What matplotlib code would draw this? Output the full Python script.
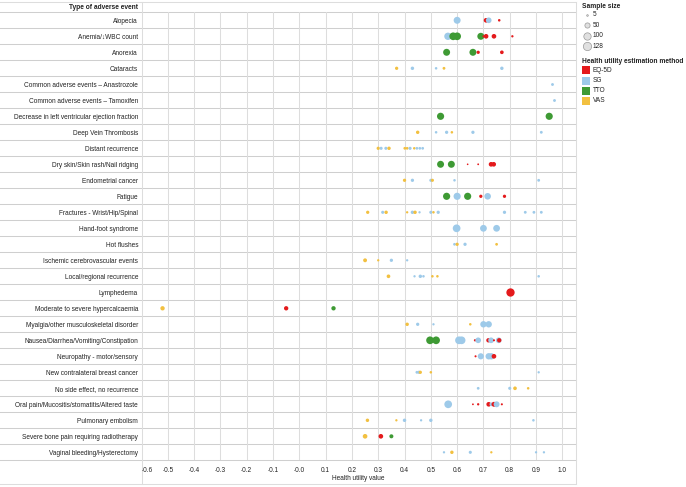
import numpy as np
import matplotlib.pyplot as plt
from matplotlib.lines import Line2D

plt.rcParams['font.family'] = ['Liberation Sans', 'DejaVu Sans']

W, H = 686, 487  # output size in px

events = [
    "Alopecia", "Anemia/\u2193WBC count", "Anorexia", "Cataracts",
    "Common adverse events \u2013 Anastrozole", "Common adverse events \u2013 Tamoxifen",
    "Decrease in left ventricular ejection fraction", "Deep Vein Thrombosis",
    "Distant recurrence", "Dry skin/Skin rash/Nail ridging", "Endometrial cancer",
    "Fatigue", "Fractures - Wrist/Hip/Spinal", "Hand-foot syndrome", "Hot flushes",
    "Ischemic cerebrovascular events", "Local/regional recurrence", "Lymphedema",
    "Moderate to severe hypercalcaemia", "Myalgia/other musculoskeletal disorder",
    "Nausea/Diarrhea/Vomiting/Constipation", "Neuropathy - motor/sensory",
    "New contralateral breast cancer", "No side effect, no recurrence",
    "Oral pain/Mucositis/stomatitis/Altered taste", "Pulmonary embolism",
    "Severe bone pain requiring radiotherapy", "Vaginal bleeding/Hysterectomy",
]

methods = ["EQ-5D", "SG", "TTO", "VAS"]
method_colors = {"EQ-5D": "#e41a1c", "SG": "#9ecae9", "TTO": "#3e9a34", "VAS": "#f2c040"}
legend_sizes = [5, 50, 100, 128]

xticks = np.round(np.arange(-0.6, 1.001, 0.1), 1)
xtick_labels = ["-0.6", "-0.5", "-0.4", "-0.3", "-0.2", "-0.1", "-0.0", "0.1", "0.2",
                "0.3", "0.4", "0.5", "0.6", "0.7", "0.8", "0.9", "1.0"]

# one entry per event (same order as events)
row_methods = [
    ["SG", "EQ-5D", "SG", "EQ-5D"],
    ["SG", "TTO", "TTO", "TTO", "EQ-5D", "EQ-5D", "EQ-5D", "EQ-5D"],
    ["TTO", "TTO", "EQ-5D", "EQ-5D"],
    ["VAS", "SG", "SG", "VAS", "SG"],
    ["SG"],
    ["SG"],
    ["TTO", "TTO"],
    ["VAS", "SG", "SG", "VAS", "SG", "SG"],
    ["VAS", "SG", "SG", "VAS", "VAS", "VAS", "SG", "VAS", "SG", "SG", "SG"],
    ["TTO", "TTO", "EQ-5D", "EQ-5D", "EQ-5D", "EQ-5D"],
    ["VAS", "SG", "SG", "VAS", "SG", "SG"],
    ["TTO", "SG", "TTO", "EQ-5D", "SG", "EQ-5D"],
    ["VAS", "SG", "VAS", "VAS", "SG", "VAS", "SG", "SG", "VAS", "SG", "SG", "SG", "SG", "SG"],
    ["SG", "SG", "SG"],
    ["SG", "VAS", "SG", "VAS"],
    ["VAS", "VAS", "SG", "SG"],
    ["VAS", "SG", "SG", "SG", "VAS", "VAS", "SG"],
    ["EQ-5D"],
    ["VAS", "EQ-5D", "TTO"],
    ["VAS", "SG", "SG", "VAS", "SG", "SG"],
    ["TTO", "TTO", "SG", "SG", "EQ-5D", "SG", "EQ-5D", "SG", "EQ-5D", "SG", "EQ-5D"],
    ["EQ-5D", "SG", "SG", "SG", "EQ-5D"],
    ["SG", "SG", "VAS", "VAS", "SG"],
    ["SG", "SG", "VAS", "VAS"],
    ["SG", "EQ-5D", "EQ-5D", "EQ-5D", "SG", "EQ-5D", "SG", "EQ-5D"],
    ["VAS", "VAS", "SG", "SG", "SG", "SG"],
    ["VAS", "EQ-5D", "TTO"],
    ["SG", "VAS", "SG", "VAS", "SG", "SG"],
]

row_values = [
    [0.60, 0.71, 0.72, 0.76],
    [0.565, 0.585, 0.60, 0.69, 0.70, 0.71, 0.74, 0.81],
    [0.56, 0.66, 0.68, 0.77],
    [0.37, 0.43, 0.52, 0.55, 0.77],
    [0.962],
    [0.97],
    [0.537, 0.95],
    [0.45, 0.52, 0.56, 0.58, 0.66, 0.92],
    [0.30, 0.311, 0.329, 0.341, 0.401, 0.41, 0.421, 0.437, 0.447, 0.458, 0.469],
    [0.537, 0.578, 0.64, 0.68, 0.729, 0.739],
    [0.40, 0.43, 0.50, 0.506, 0.59, 0.91],
    [0.56, 0.60, 0.64, 0.69, 0.716, 0.78],
    [0.26, 0.317, 0.33, 0.41, 0.43, 0.44, 0.457, 0.50, 0.51, 0.528, 0.78, 0.859, 0.892, 0.92],
    [0.598, 0.70, 0.75],
    [0.59, 0.60, 0.63, 0.75],
    [0.25, 0.30, 0.35, 0.41],
    [0.339, 0.438, 0.46, 0.472, 0.506, 0.525, 0.91],
    [0.80],
    [-0.52, -0.05, 0.13],
    [0.41, 0.45, 0.51, 0.65, 0.70, 0.72],
    [0.497, 0.52, 0.607, 0.617, 0.668, 0.68, 0.719, 0.729, 0.74, 0.758, 0.76],
    [0.67, 0.69, 0.72, 0.73, 0.74],
    [0.447, 0.455, 0.46, 0.50, 0.91],
    [0.68, 0.80, 0.82, 0.87],
    [0.566, 0.66, 0.68, 0.72, 0.73, 0.74, 0.75, 0.77],
    [0.259, 0.369, 0.40, 0.463, 0.50, 0.89],
    [0.25, 0.31, 0.35],
    [0.55, 0.58, 0.65, 0.73, 0.90, 0.93],
]

row_sizes = [
    [90, 40, 60, 12],
    [100, 110, 110, 90, 8, 40, 40, 10],
    [90, 90, 20, 25],
    [20, 22, 12, 15, 22],
    [15],
    [15],
    [95, 95],
    [22, 12, 20, 12, 20, 15],
    [20, 18, 18, 22, 14, 14, 18, 12, 14, 14, 14],
    [90, 90, 5, 6, 40, 40],
    [20, 20, 18, 18, 12, 15],
    [95, 95, 95, 20, 80, 20],
    [20, 18, 22, 10, 22, 22, 10, 18, 12, 20, 20, 15, 15, 15],
    [110, 85, 85],
    [14, 20, 20, 14],
    [28, 10, 20, 10],
    [25, 10, 22, 12, 12, 12, 12],
    [128],
    [35, 35, 35],
    [22, 20, 10, 12, 75, 75],
    [110, 110, 110, 110, 10, 60, 35, 60, 8, 60, 35],
    [8, 70, 75, 75, 40],
    [15, 20, 20, 12, 10],
    [14, 18, 25, 12],
    [110, 6, 10, 40, 25, 45, 65, 8],
    [22, 10, 22, 10, 22, 12],
    [40, 40, 30],
    [10, 22, 18, 10, 10, 10],
]

FS = 4.7
SIZE_K = 0.28  # sample size -> marker area (pt^2)
GRID = "#dddddd"
ROWLINE = "#cfcfcf"
TXT = "#222222"

# plot layout (px)
left, right = 141.5, 575.5
top, bottom = 12.3, 460.3
frame_top, frame_bottom = 1.5, 484

fig = plt.figure(figsize=(W / 100, H / 100), dpi=100)

# overlay in pixel coords for frame + legend
lax = fig.add_axes([0, 0, 1, 1], zorder=0)
lax.set_xlim(0, W)
lax.set_ylim(H, 0)
lax.axis("off")

ax = fig.add_axes([left / W, 1 - bottom / H, (right - left) / W, (bottom - top) / H], zorder=1)
ax.patch.set_visible(False)

for i, ev in enumerate(events):
    cols = [method_colors[m] for m in row_methods[i]]
    ax.scatter(row_values[i], [i] * len(row_values[i]),
               s=np.array(row_sizes[i]) * SIZE_K, c=cols, linewidths=0, zorder=3)

ax.set_xlim(-0.6, 1.05)
ax.set_ylim(len(events) - 0.5, -0.5)
ax.set_yticks(range(len(events)))
ax.set_yticklabels(events, fontsize=FS, color=TXT)
ax.set_xticks(xticks)
ax.set_xticklabels(xtick_labels, fontsize=FS, color=TXT)
ax.get_xticklabels()[0].set_ha("left")
ax.tick_params(axis="y", length=0, pad=2.5)
ax.tick_params(axis="x", length=0, pad=5.0)
ax.grid(axis="x", color=GRID, lw=0.75, zorder=0)
ax.set_axisbelow(True)
for sp in ax.spines.values():
    sp.set_visible(False)

# row dividers (through label column), frame
for k in range(len(events) + 1):
    y = top + k * (bottom - top) / len(events)
    lax.add_line(Line2D([0, right], [y, y], color=ROWLINE, lw=0.75))
lax.add_line(Line2D([0, right], [frame_top, frame_top], color=GRID, lw=0.75))
lax.add_line(Line2D([0, right], [frame_bottom, frame_bottom], color=GRID, lw=0.75))
for x in (left, right):
    lax.add_line(Line2D([x, x], [frame_top, frame_bottom], color=GRID, lw=0.75))

lax.text(138, 7.3, "Type of adverse event", ha="right", va="center",
         fontsize=4.8, fontweight="bold", color=TXT)
lax.text((left + right) / 2, 479, "Health utility value", ha="center", va="center",
         fontsize=FS, color=TXT)

# size legend
lax.text(582.5, 6.5, "Sample size", ha="left", va="center", fontsize=4.8,
         fontweight="bold", color=TXT)
for j, n in enumerate(legend_sizes):
    yy = 15 + j * 10.4
    lax.scatter([587], [yy], s=n * SIZE_K, facecolor="#e0e0e0", edgecolor="#999999",
                linewidths=0.5)
    lax.text(592.5, yy, str(n), ha="left", va="center", fontsize=FS, color=TXT)

# method legend
lax.text(582.5, 61.5, "Health utility estimation method", ha="left", va="center",
         fontsize=4.8, fontweight="bold", color=TXT)
for j, m in enumerate(methods):
    yy = 70.3 + j * 10.2
    lax.scatter([586], [yy], s=26, marker="s", color=method_colors[m], linewidths=0)
    lax.text(592.5, yy, m, ha="left", va="center", fontsize=FS, color=TXT)

fig.savefig("out.png", dpi=100)
